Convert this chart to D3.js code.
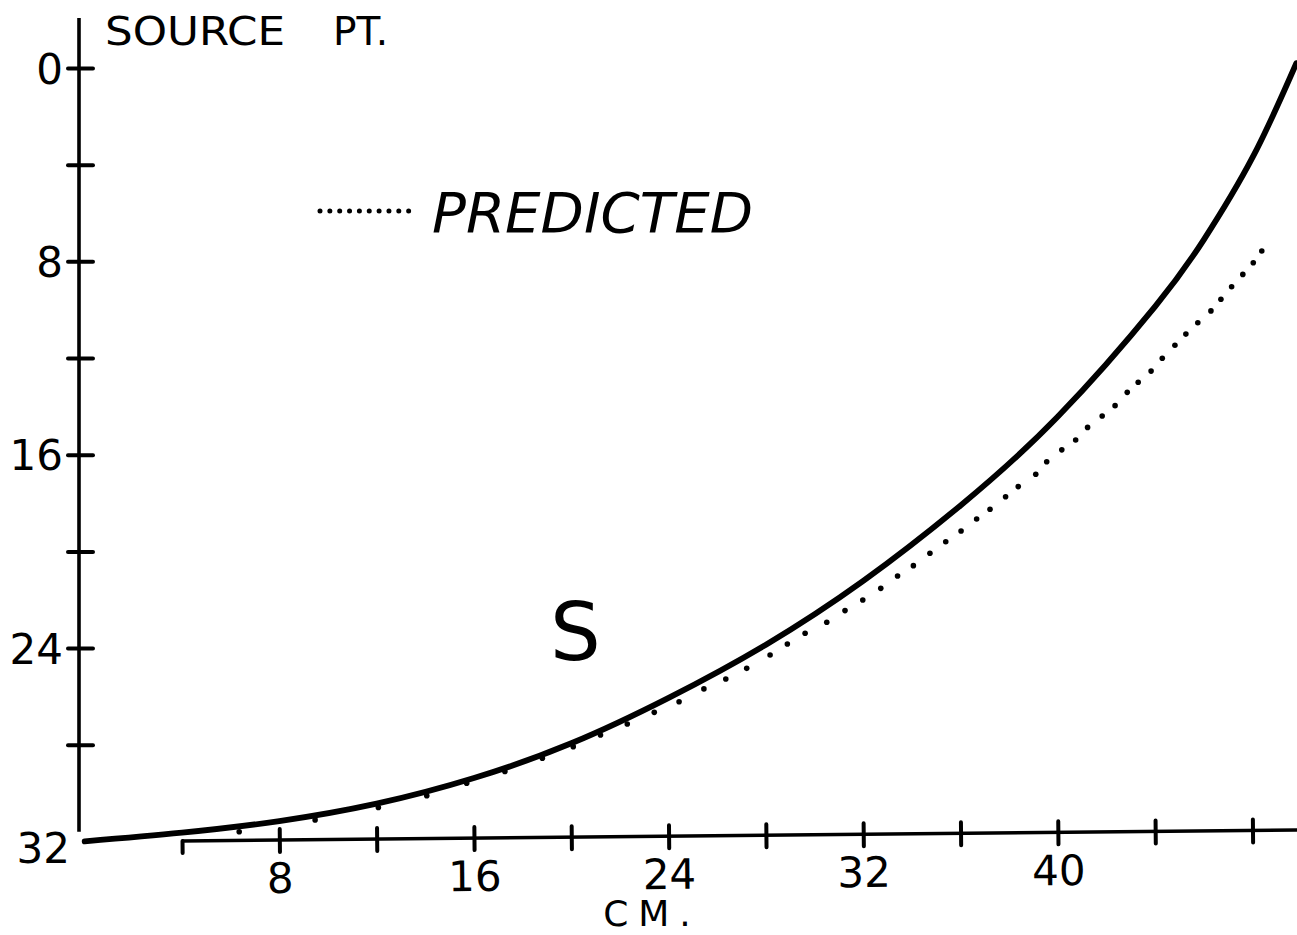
<!DOCTYPE html>
<html>
<head>
<meta charset="utf-8">
<script src="https://cdn.jsdelivr.net/npm/d3@7"></script>
<style>
  html, body { margin: 0; padding: 0; background: #fff; }
  svg { display: block; }
  text { font-family: "DejaVu Sans", sans-serif; fill: #000; }
</style>
</head>
<body>
<svg id="chart" width="1297" height="935"></svg>
<script>
// ---- data ----
// measured curve "S": distance along (cm) vs. depth below source point
const sX = [0, 4, 8, 12, 16, 20, 24, 28, 32, 36, 40, 44, 46, 48, 49.8];
const sY = [32, 31.64, 31.16, 30.44, 29.38, 27.94, 26.06, 23.86, 21.22, 18.1, 14.42, 9.86, 7.1, 3.7, -0.2];

// predicted curve (dotted): each dot as plotted
const pX = [6.35, 9.47, 12.07, 14.06, 15.70, 17.27, 18.81, 20.08, 21.2, 22.30, 23.41, 24.43, 25.45, 26.35, 27.21,
            28.17, 28.88, 29.61, 30.50, 31.25, 31.98, 32.72, 33.41, 34.06, 34.74, 35.39, 36.02, 36.66, 37.21, 37.85,
            38.37, 39.09, 39.54, 40.16, 40.73, 41.22, 41.82, 42.35, 42.85, 43.30, 43.83, 44.29, 44.81, 45.26, 45.75,
            46.29, 46.70, 47.14, 47.60, 48.03, 48.38];
const pY = [31.60, 31.11, 30.60, 30.11, 29.59, 29.11, 28.56, 28.08, 27.6, 27.14, 26.66, 26.22, 25.69, 25.28, 24.84,
            24.29, 23.83, 23.39, 22.93, 22.45, 22.01, 21.53, 21.02, 20.59, 20.08, 19.60, 19.16, 18.66, 18.26, 17.74,
            17.32, 16.81, 16.29, 15.80, 15.39, 14.87, 14.40, 13.97, 13.42, 13.00, 12.54, 12.01, 11.47, 11.01, 10.54,
            10.05, 9.57, 9.05, 8.54, 8.06, 7.57];

const xTicks = [4, 8, 12, 16, 20, 24, 28, 32, 36, 40, 44, 48];
const xTickLabels = [8, 16, 24, 32, 40];
const yTicks = [0, 4, 8, 12, 16, 20, 24, 28, 32];
const yTickLabels = [0, 8, 16, 24, 32];

const xTitle = "CM.";
const yTitleA = "SOURCE";
const yTitleB = "PT.";
const legendLabel = "PREDICTED";
const curveLabel = "S";

// ---- scales ----
const x = d3.scaleLinear().domain([0, 50]).range([84.7, 1301.2]);
const y = d3.scaleLinear().domain([0, 32]).range([68, 841.4]);

const svg = d3.select("#chart");
svg.append("rect").attr("width", 1297).attr("height", 935).attr("fill", "#fff");

// ---- y axis ----
const yAxisX = 79;
const gy = svg.append("g").attr("transform", `translate(${yAxisX},0)`);
gy.append("line")
  .attr("x1", 0).attr("x2", 0)
  .attr("y1", y(-2.07)).attr("y2", y(31.6))
  .attr("stroke", "#000").attr("stroke-width", 3.6);
gy.call(g => {
  const ax = d3.axisLeft(y).tickValues(yTicks)
    .tickFormat(d => yTickLabels.includes(d) ? String(d) : "")
    .tickSize(11).tickPadding(5);
  g.call(ax);
  g.select(".domain").remove();
  g.selectAll(".tick line")
    .attr("x1", -11).attr("x2", 14)
    .attr("stroke", "#000").attr("stroke-width", 4)
    .attr("stroke-linecap", "round")
    .attr("display", d => d === 32 ? "none" : null);
  g.selectAll(".tick text")
    .attr("font-size", 42)
    .attr("font-family", "DejaVu Sans")
    .attr("fill", "#000")
    .attr("x", d => d === 32 ? -9 : -16)
    .attr("dy", d => d === 32 ? "0.5em" : "0.36em");
});

// ---- x axis (slightly skewed, as drawn) ----
const x0 = x(4), yBase = 841;
const gx = svg.append("g")
  .attr("transform", `translate(0,${yBase}) rotate(-0.565, ${x0}, 0)`);
gx.append("line")
  .attr("x1", x0).attr("x2", x(50) + 10)
  .attr("y1", 0).attr("y2", 0)
  .attr("stroke", "#000").attr("stroke-width", 3.6);
gx.call(g => {
  const ax = d3.axisBottom(x).tickValues(xTicks)
    .tickFormat(d => xTickLabels.includes(d) ? String(d) : "")
    .tickSize(11).tickPadding(12);
  g.call(ax);
  g.select(".domain").remove();
  g.selectAll(".tick line")
    .attr("y1", d => d === 4 ? 0 : -11).attr("y2", 12)
    .attr("stroke", "#000").attr("stroke-width", 4)
    .attr("stroke-linecap", "round");
  g.selectAll(".tick text")
    .attr("font-size", 42)
    .attr("font-family", "DejaVu Sans")
    .attr("fill", "#000");
});

// ---- axis titles ----
svg.append("text").attr("x", 652).attr("y", 926)
  .attr("text-anchor", "middle").attr("font-size", 36)
  .attr("letter-spacing", 10)
  .text(xTitle);
svg.append("text").attr("x", 105).attr("y", 45)
  .attr("font-size", 39).attr("textLength", 180).attr("lengthAdjust", "spacingAndGlyphs")
  .text(yTitleA);
svg.append("text").attr("x", 333).attr("y", 45)
  .attr("font-size", 39)
  .text(yTitleB);

// ---- measured curve S ----
const sData = sX.map((v, i) => [v, sY[i]]);
const line = d3.line().x(d => x(d[0])).y(d => y(d[1])).curve(d3.curveNatural);
svg.append("path")
  .datum(sData)
  .attr("d", line)
  .attr("fill", "none")
  .attr("stroke", "#000")
  .attr("stroke-width", 5.8)
  .attr("stroke-linecap", "round");

// ---- predicted (dotted) ----
const pData = pX.map((v, i) => [v, pY[i]]);
svg.append("g").selectAll("circle")
  .data(pData).join("circle")
  .attr("cx", d => x(d[0])).attr("cy", d => y(d[1]))
  .attr("r", 2.8).attr("fill", "#000");

// ---- legend ----
svg.append("line")
  .attr("x1", 320).attr("x2", 418.5).attr("y1", 211).attr("y2", 211)
  .attr("stroke", "#000").attr("stroke-width", 5)
  .attr("stroke-linecap", "round")
  .attr("stroke-dasharray", "0 9.85");
svg.append("text").attr("x", 432).attr("y", 232)
  .attr("font-size", 55).attr("font-style", "italic")
  .attr("textLength", 321).attr("lengthAdjust", "spacingAndGlyphs")
  .text(legendLabel);

// ---- curve label ----
svg.append("text").attr("x", 550).attr("y", 660)
  .attr("font-size", 80)
  .text(curveLabel);
</script>
</body>
</html>
